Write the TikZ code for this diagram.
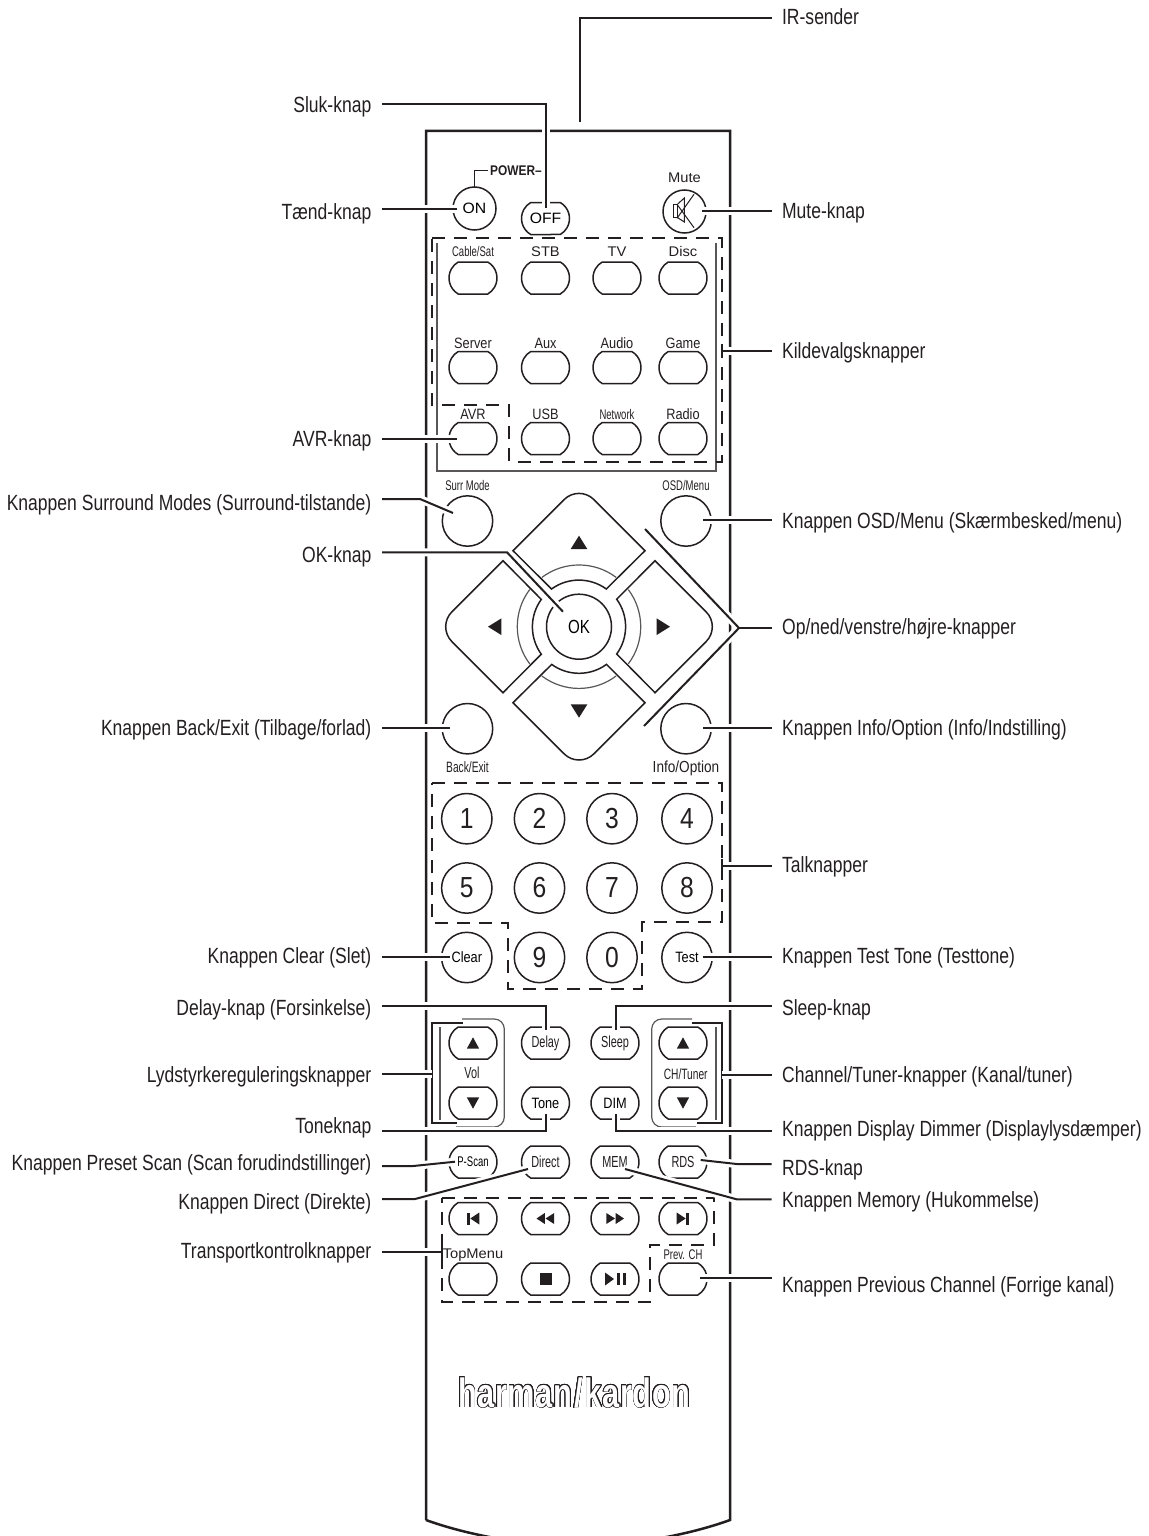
\documentclass[tikz,border=0pt]{standalone}
\usepackage{fontspec}
\usepackage[copies]{contour}
\usepackage{tikz}
\usetikzlibrary{shapes.misc}
\setmainfont[FakeStretch=.797]{Liberation Sans}
\newfontfamily\widefont[FakeStretch=1.05]{Liberation Sans}
\newfontfamily\normfont[FakeStretch=.85]{Liberation Sans}
\newfontfamily\narrowfont[FakeStretch=.68]{Liberation Sans}
\newfontfamily\logofont[FakeStretch=.75,LetterSpace=1.5]{Liberation Sans}
\definecolor{ink}{HTML}{231F20}
\contournumber{24}
\contourlength{.3pt}
\tikzset{
	hull/.style={draw=ink, line width=1.25pt},
	groupline/.style={draw=ink, line width=1pt, dash pattern=on 6.5pt off 4.5pt},
	thinline/.style={draw=ink!75, line width=.6pt},
	bracket/.style={draw=ink, line width=1.1pt},
	leader/.style={draw=ink, line width=1pt, preaction={draw=white, line width=4pt}},
	ovalbtn/.style={rounded rectangle, rounded rectangle arc length=120, draw=ink, fill=white, line width=.75pt,
		minimum width=24pt, minimum height=16pt, inner sep=0pt, outer sep=0pt},
	roundbtn/.style={circle, draw=ink, fill=white, line width=.75pt,
		minimum size=25.2pt, inner sep=0pt, outer sep=0pt},
	txtwide/.style={font=\fontsize{7}{8}\widefont, text=ink, inner sep=0pt, outer sep=0pt, text depth=0pt},
	txtnorm/.style={font=\fontsize{7.5}{9}\normfont, text=ink, inner sep=0pt, outer sep=0pt, text depth=0pt},
	txtslim/.style={font=\fontsize{7}{8}\narrowfont, text=ink, inner sep=0pt, outer sep=0pt, text depth=0pt},
	txttall/.style={font=\fontsize{8}{9}\narrowfont, text=ink},
	txtnum/.style={font=\fontsize{14.5}{16}\normfont, text=ink},
	capL/.style={anchor=base east, font=\fontsize{11}{13}\selectfont, text=ink, inner sep=0pt},
	capR/.style={anchor=base west, font=\fontsize{11}{13}\selectfont, text=ink, inner sep=0pt},
	dkey/.pic={
		\draw[draw=ink, fill=white, line width=.75pt] (-66,-76) [rounded corners=10.5pt] -- (0,-142) [sharp corners] -- (66,-76)
			-- (27.3,-37.7) arc[start angle=-54,end angle=-126,radius=46.6] -- cycle;
		\draw[thinline] (-37.1,-49.3) arc[start angle=-127,end angle=-53,radius=61.7];
		\fill[ink] (0,-91) -- (8.3,-77.7) -- (-8.3,-77.7) -- cycle;
	},
	speaker/.pic={
		\draw[draw=ink, line width=.5pt] (-11.5,-7.5) rectangle (-6.8,6.2);
		\draw[draw=ink, line width=.5pt] (-6.8,-7.5) -- (-.2,-13.5) -- (-.2,10.5) -- (-6.8,6.2);
		\draw[draw=ink, line width=.5pt] (9.5,-17.2) -- (-7.5,6.8);
		\draw[draw=ink, line width=.5pt] (-7.5,-7.2) -- (9.5,16.2);
	},
	iconup/.pic={\fill[ink] (0,-5.7) -- (6.2,5.7) -- (-6.2,5.7) -- cycle;},
	icondown/.pic={\fill[ink] (0,5.7) -- (6.2,-5.7) -- (-6.2,-5.7) -- cycle;},
	iconprev/.pic={\fill[ink] (-6,-6) rectangle (-3.3,6); \fill[ink] (-2.7,0) -- (6.3,-6) -- (6.3,6) -- cycle;},
	iconnext/.pic={\fill[ink] (6,-6) rectangle (3.3,6); \fill[ink] (2.7,0) -- (-6.3,-6) -- (-6.3,6) -- cycle;},
	iconrew/.pic={\fill[ink] (-9,0) -- (-.7,-5.5) -- (-.7,5.5) -- cycle; \fill[ink] (0,0) -- (8.7,-5.5) -- (8.7,5.5) -- cycle;},
	iconfwd/.pic={\fill[ink] (9,0) -- (.7,-5.5) -- (.7,5.5) -- cycle; \fill[ink] (0,0) -- (-8.7,-5.5) -- (-8.7,5.5) -- cycle;},
	iconstop/.pic={\fill[ink] (-6,-6) rectangle (6,6);},
	iconplay/.pic={\fill[ink] (-1,0) -- (-10,-6.5) -- (-10,6.5) -- cycle; \fill[ink] (2.3,-6) rectangle (5,6); \fill[ink] (7.7,-6) rectangle (10.7,6);},
}

\begin{document}
\begin{tikzpicture}[x=.5pt, y=-.5pt]
\useasboundingbox (0,0) rectangle (1148,1536);
% body
\draw[hull] (426,1520) -- (426,131) -- (730,131) -- (730,1520)
	.. controls (686,1536) and (626,1546) .. (578,1546)
	.. controls (530,1546) and (470,1536) .. (426,1520);
% groups
\draw[thinline] (437,243) -- (437,471) -- (716,471) -- (716,243);
\draw[thinline] (440,1027) -- (440,1120);
\draw[thinline] (716,1027) -- (716,1120);
\draw[thinline, rounded corners=5pt] (462,1019) -- (504.3,1019) -- (504.3,1127) -- (456,1127);
\draw[thinline, rounded corners=5pt] (692,1019) -- (651.7,1019) -- (651.7,1127) -- (696,1127);
\draw[groupline] (432.3,238.3) -- (721.7,238.3) -- (721.7,461.7) -- (509,461.7) -- (509,405) -- (432.3,405) -- cycle;
\draw[groupline] (432,783) -- (722,783) -- (722,921.7) -- (642,921.7) -- (642,989) -- (508,989) -- (508,923) -- (432,923) -- cycle;
\draw[groupline] (441.7,1197.7) -- (714,1197.7) -- (714,1245) -- (650,1245) -- (650,1302) -- (441.7,1302) -- cycle;
\draw[bracket] (462.7,1022.7) -- (431.7,1022.7) -- (431.7,1123) -- (456.7,1123);
\draw[bracket] (691.7,1022.7) -- (722.3,1022.7) -- (722.3,1123) -- (696.7,1123);
% power row
\node[roundbtn, minimum size=21.5pt, font=\fontsize{7.5}{9}\widefont] (on) at (474.5,208.5) {ON};
\node[ovalbtn, font=\fontsize{7.5}{9}\widefont] (off) at (545.5,218.5) {OFF};
\node[roundbtn, minimum size=21.5pt, label={[txtwide,yshift=4pt]above:Mute}] (mute) at (684.5,211.5) {};
\pic at (mute) {speaker};
\node[font=\fontsize{7}{8}\normfont\bfseries, text=ink, inner sep=0pt, outer sep=1pt] (power) at (516,170.7) {POWER–};
\draw[draw=ink, line width=.75pt] (on.north) |- (power.west);
% sources
\begin{scope}[every label/.append style={yshift=2.5pt}]
	\node[ovalbtn, label={[txtslim]above:Cable/Sat}] (cable) at (473,278) {};
	\node[ovalbtn, label={[txtwide]above:STB}] (stb) at (545.5,278) {};
	\node[ovalbtn, label={[txtwide]above:TV}] (tv) at (617,278) {};
	\node[ovalbtn, label={[txtwide]above:Disc}] (disc) at (683,278) {};
\end{scope}
\begin{scope}[every label/.append style={yshift=1.3pt}]
	\node[ovalbtn, label={[txtnorm]above:Server}] (server) at (473,367.5) {};
	\node[ovalbtn, label={[txtnorm]above:Aux}] (aux) at (545.5,367.5) {};
	\node[ovalbtn, label={[txtnorm]above:Audio}] (audio) at (617,367.5) {};
	\node[ovalbtn, label={[txtnorm]above:Game}] (game) at (683,367.5) {};
	\node[ovalbtn, label={[txtnorm]above:AVR}] (avr) at (473,438.5) {};
	\node[ovalbtn, label={[txtnorm]above:USB}] (usb) at (545.5,438.5) {};
	\node[ovalbtn, label={[txtslim]above:Network}] (network) at (617,438.5) {};
	\node[ovalbtn, label={[txtnorm]above:Radio}] (radio) at (683,438.5) {};
\end{scope}
% navigation
\node[roundbtn, label={[txtslim,yshift=2.5pt]above:Surr Mode}] (surr) at (467.5,521) {};
\node[roundbtn, label={[txtslim,yshift=2.5pt]above:OSD/Menu}] (osd) at (686,521) {};
\node[roundbtn, label={[txtslim,font=\fontsize{7.5}{8}\narrowfont,yshift=-4pt]below:Back/Exit}] (back) at (467.5,728.7) {};
\node[roundbtn, label={[txtnorm,font=\fontsize{8}{9}\normfont,yshift=-3.7pt]below:Info/Option}] (info) at (686,728.7) {};
\coordinate (pad) at (579,626.7);
\pic at (pad) {dkey};
\pic[rotate=90] at (pad) {dkey};
\pic[rotate=180] at (pad) {dkey};
\pic[rotate=270] at (pad) {dkey};
\node[roundbtn, minimum size=32.5pt, font=\fontsize{9.5}{10}\selectfont] (ok) at (pad) {OK};
% numbers
\node[roundbtn, txtnum] (n1) at (466.8,818.7) {1};
\node[roundbtn, txtnum] (n2) at (539.5,818.7) {2};
\node[roundbtn, txtnum] (n3) at (612,818.7) {3};
\node[roundbtn, txtnum] (n4) at (687,818.7) {4};
\node[roundbtn, txtnum] (n5) at (466.8,888) {5};
\node[roundbtn, txtnum] (n6) at (539.5,888) {6};
\node[roundbtn, txtnum] (n7) at (612,888) {7};
\node[roundbtn, txtnum] (n8) at (687,888) {8};
\node[roundbtn, font=\fontsize{7.5}{9}\normfont] (clear) at (466.8,957.5) {Clear};
\node[roundbtn, txtnum] (n9) at (539.5,957.5) {9};
\node[roundbtn, txtnum] (n0) at (612,957.5) {0};
\node[roundbtn, font=\fontsize{7.5}{9}\normfont] (test) at (687,957.5) {Test};
% small buttons
\node[ovalbtn] (volup) at (473,1043) {};
\node[ovalbtn, txttall] (delay) at (545.5,1043) {Delay};
\node[ovalbtn, txttall] (sleep) at (615,1043) {Sleep};
\node[ovalbtn] (chup) at (683,1043) {};
\node[ovalbtn] (voldn) at (473,1103) {};
\node[ovalbtn, font=\fontsize{7.5}{9}\normfont] (tone) at (545.5,1103) {Tone};
\node[ovalbtn, font=\fontsize{7.5}{9}\normfont] (dim) at (615,1103) {DIM};
\node[ovalbtn] (chdn) at (683,1103) {};
\node[ovalbtn, font=\fontsize{7}{8}\narrowfont] (pscan) at (473,1162) {P-Scan};
\node[ovalbtn, txttall] (direct) at (545.5,1162) {Direct};
\node[ovalbtn, txttall] (mem) at (615,1162) {MEM};
\node[ovalbtn, txttall] (rds) at (683,1162) {RDS};
\node[txttall] (vol) at (472,1073) {Vol};
\node[txttall, font=\fontsize{7.5}{8}\narrowfont] (chtuner) at (685.7,1074) {CH/Tuner};
\pic at (volup) {iconup};
\pic at (chup) {iconup};
\pic at (voldn) {icondown};
\pic at (chdn) {icondown};
% transport
\node[ovalbtn] (prev) at (473,1218.5) {};
\node[ovalbtn] (rew) at (545.5,1218.5) {};
\node[ovalbtn] (fwd) at (615,1218.5) {};
\node[ovalbtn] (next) at (683,1218.5) {};
\node[ovalbtn, label={[txtwide,yshift=2.2pt]above:TopMenu}] (topmenu) at (473,1279) {};
\node[ovalbtn] (stop) at (545.5,1279) {};
\node[ovalbtn] (play) at (615,1279) {};
\node[ovalbtn, label={[txtslim,yshift=1.7pt]above:Prev. CH}] (prevch) at (683,1279) {};
\pic at (prev) {iconprev};
\pic at (rew) {iconrew};
\pic at (fwd) {iconfwd};
\pic at (next) {iconnext};
\pic at (stop) {iconstop};
\pic at (play) {iconplay};
\node[font=\fontsize{20.5}{22}\logofont\bfseries, inner sep=0pt] (logo) at (574.3,1393) {\contour{ink}{\textcolor{white}{harman\kern1pt/\kern1pt kardon}}};
% captions left
\node[capL] (cSluk) at (371.7,112.7) {Sluk-knap};
\node[capL] (cTaend) at (371.7,219.3) {Tænd-knap};
\node[capL] (cAvr) at (371.7,446) {AVR-knap};
\node[capL] (cSurr) at (371.7,510) {Knappen Surround Modes (Surround-tilstande)};
\node[capL] (cOk) at (371.7,562.7) {OK-knap};
\node[capL] (cBack) at (371.7,735) {Knappen Back/Exit (Tilbage/forlad)};
\node[capL] (cClear) at (371.7,963) {Knappen Clear (Slet)};
\node[capL] (cDelay) at (371.7,1015) {Delay-knap (Forsinkelse)};
\node[capL] (cVol) at (371.7,1082.7) {Lydstyrkereguleringsknapper};
\node[capL] (cTone) at (371.7,1133.3) {Toneknap};
\node[capL] (cScan) at (371.7,1170) {Knappen Preset Scan (Scan forudindstillinger)};
\node[capL] (cDirect) at (371.7,1209) {Knappen Direct (Direkte)};
\node[capL] (cTrans) at (371.7,1258.3) {Transportkontrolknapper};
% captions right
\node[capR] (cIr) at (781.7,25) {IR-sender};
\node[capR] (cMute) at (781.7,218.3) {Mute-knap};
\node[capR] (cKilde) at (781.7,358) {Kildevalgsknapper};
\node[capR] (cOsd) at (781.7,528) {Knappen OSD/Menu (Skærmbesked/menu)};
\node[capR] (cPad) at (781.7,634) {Op/ned/venstre/højre-knapper};
\node[capR] (cInfo) at (781.7,735) {Knappen Info/Option (Info/Indstilling)};
\node[capR] (cTal) at (781.7,872) {Talknapper};
\node[capR] (cTest) at (781.7,963) {Knappen Test Tone (Testtone)};
\node[capR] (cSleep) at (781.7,1015) {Sleep-knap};
\node[capR] (cCh) at (781.7,1082.7) {Channel/Tuner-knapper (Kanal/tuner)};
\node[capR] (cDim) at (781.7,1136) {Knappen Display Dimmer (Displaylysdæmper)};
\node[capR] (cRds) at (781.7,1175) {RDS-knap};
\node[capR] (cMem) at (781.7,1207) {Knappen Memory (Hukommelse)};
\node[capR] (cPrev) at (781.7,1292.7) {Knappen Previous Channel (Forrige kanal)};
% leader ends
\coordinate (aSluk) at (382,104.3); \coordinate (bSluk) at (545.8,208);
\coordinate (aTaend) at (382,209); \coordinate (bTaend) at (456.7,209);
\coordinate (aAvr) at (382,439); \coordinate (bAvr) at (457,439);
\coordinate (aSurr) at (382,499); \coordinate (kSurr) at (420,499); \coordinate (bSurr) at (453,513);
\coordinate (aOk) at (382,552.3); \coordinate (kOk) at (507,552.3); \coordinate (bOk) at (563,611.7);
\coordinate (aBack) at (382,728.3); \coordinate (bBack) at (450,728.3);
\coordinate (aClear) at (382,956.7); \coordinate (bClear) at (450,956.7);
\coordinate (aDelay) at (382,1005.7); \coordinate (bDelay) at (546,1030);
\coordinate (aVol) at (382,1074); \coordinate (bVol) at (431.7,1074);
\coordinate (aTone) at (382,1131); \coordinate (bTone) at (546,1114);
\coordinate (aScan) at (382,1166); \coordinate (kScan) at (413.3,1166); \coordinate (bScan) at (455,1161.7);
\coordinate (aDirect) at (382,1199); \coordinate (kDirect) at (415,1199); \coordinate (bDirect) at (528,1169);
\coordinate (aTrans) at (382,1251.7); \coordinate (bTrans) at (441.7,1251.7);
\coordinate (aIr) at (771.7,18.3); \coordinate (bIr) at (580,122.3);
\coordinate (aMute) at (771.7,210.7); \coordinate (bMute) at (701.6,210.7);
\coordinate (aKilde) at (771.7,350.7); \coordinate (bKilde) at (721.7,350.7);
\coordinate (aOsd) at (771.7,520); \coordinate (bOsd) at (703,520);
\coordinate (aPad) at (771.7,628); \coordinate (bPad) at (739,628);
\coordinate (pUp) at (645,529); \coordinate (pDn) at (644,726);
\coordinate (aInfo) at (771.7,728.3); \coordinate (bInfo) at (703,728.3);
\coordinate (aTal) at (771.7,866); \coordinate (bTal) at (721.7,866);
\coordinate (aTest) at (771.7,956.7); \coordinate (bTest) at (703,956.7);
\coordinate (aSleep) at (771.7,1005.7); \coordinate (bSleep) at (615.7,1030);
\coordinate (aCh) at (771.7,1075); \coordinate (bCh) at (722.3,1075);
\coordinate (aDim) at (771.7,1131); \coordinate (bDim) at (615.7,1114);
\coordinate (aRds) at (771.7,1164); \coordinate (kRds) at (736.7,1164); \coordinate (bRds) at (700.7,1160);
\coordinate (aMem) at (771.7,1199.3); \coordinate (kMem) at (736.7,1199.3); \coordinate (bMem) at (625,1169);
\coordinate (aPrev) at (771.7,1278.3); \coordinate (bPrev) at (700,1278.3);
% leaders
\draw[leader] (aSluk) -| (bSluk);
\draw[leader] (aTaend) -- (bTaend);
\draw[leader] (aAvr) -- (bAvr);
\draw[leader] (aSurr) -- (kSurr) -- (bSurr);
\draw[leader] (aOk) -- (kOk) -- (bOk);
\draw[leader] (aBack) -- (bBack);
\draw[leader] (aClear) -- (bClear);
\draw[leader] (aDelay) -| (bDelay);
\draw[leader] (aVol) -- (bVol);
\draw[leader] (aTone) -| (bTone);
\draw[leader] (aScan) -- (kScan) -- (bScan);
\draw[leader] (aDirect) -- (kDirect) -- (bDirect);
\draw[leader] (aTrans) -- (bTrans);
\draw[leader] (aIr) -| (bIr);
\draw[leader] (aMute) -- (bMute);
\draw[leader] (aKilde) -- (bKilde);
\draw[leader] (aOsd) -- (bOsd);
\draw[leader] (aInfo) -- (bInfo);
\draw[leader] (pUp) -- (bPad) -- (pDn);
\draw[bracket] (aPad) -- (bPad);
\draw[leader] (aTal) -- (bTal);
\draw[leader] (aTest) -- (bTest);
\draw[leader] (aSleep) -| (bSleep);
\draw[leader] (aCh) -- (bCh);
\draw[leader] (aDim) -| (bDim);
\draw[leader] (aRds) -- (kRds) -- (bRds);
\draw[leader] (aMem) -- (kMem) -- (bMem);
\draw[leader] (aPrev) -- (bPrev);
% ticks on the dashed groups
\draw[bracket] ([yshift=3.5pt]bKilde) -- ([yshift=-3.5pt]bKilde);
\draw[bracket] ([yshift=3.5pt]bTal) -- ([yshift=-3.5pt]bTal);
\draw[bracket] ([yshift=3.5pt]bTrans) -- ([yshift=-3.5pt]bTrans);
\end{tikzpicture}
\end{document}
